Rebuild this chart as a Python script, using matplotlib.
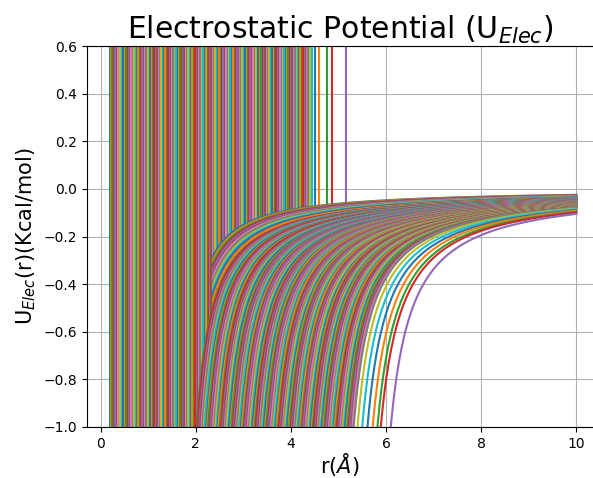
import numpy as np
import matplotlib
matplotlib.use("Agg")
import matplotlib.pyplot as plt

# ---- data (one entry per pair curve) ----
# x position (Å) of each curve's vertical asymptote line
asym_r = [
    0.20, 0.23, 0.25, 0.29, 0.31, 0.34, 0.37, 0.40, 0.42, 0.46,
    0.48, 0.51, 0.54, 0.57, 0.60, 0.62, 0.65, 0.68, 0.71, 0.74,
    0.77, 0.79, 0.83, 0.85, 0.88, 0.91, 0.94, 0.96, 0.99, 1.03,
    1.05, 1.08, 1.11, 1.13, 1.17, 1.19, 1.22, 1.25, 1.28, 1.31,
    1.34, 1.36, 1.40, 1.42, 1.45, 1.48, 1.50, 1.53, 1.57, 1.59,
    1.62, 1.65, 1.67, 1.71, 1.73, 1.76, 1.79, 1.82, 1.84, 1.88,
    1.90, 1.93, 1.96, 1.99, 2.01, 2.05, 2.07, 2.10, 2.13, 2.16,
    2.19, 2.21, 2.25, 2.27, 2.30, 2.33, 2.36, 2.39, 2.41, 2.44,
    2.47, 2.50, 2.53, 2.56, 2.58, 2.61, 2.64, 2.67, 2.70, 2.73,
    2.76, 2.78, 2.82, 2.84, 2.87, 2.90, 2.93, 2.95, 2.98, 3.01,
    3.04, 3.07, 3.10, 3.12, 3.15, 3.18, 3.21, 3.24, 3.27, 3.30,
    3.32, 3.35, 3.38, 3.41, 3.44, 3.46, 3.49, 3.52, 3.55, 3.58,
    3.61, 3.64, 3.66, 3.69, 3.72, 3.75, 3.78, 3.81, 3.83, 3.86,
    3.89, 3.92, 3.95, 3.98, 4.00, 4.03, 4.07, 4.09, 4.12, 4.15,
    4.18, 4.20, 4.23, 4.26, 4.29, 4.31, 4.34, 4.37,
    4.40, 4.45, 4.51, 4.60, 4.77, 4.87, 5.15,
]

# r (Å) at which each curve reaches U = -1 kcal/mol
cross_r = [
    1.83, 1.85, 1.86, 1.88, 1.89, 1.91, 1.92, 1.94, 1.95, 1.97, 1.98, 2.00,
    2.02, 2.04, 2.07, 2.09, 2.12, 2.14, 2.17, 2.19, 2.22, 2.24,
    2.26, 2.29, 2.31, 2.34, 2.36, 2.39, 2.41, 2.44, 2.46, 2.48,
    2.51, 2.53, 2.56, 2.58, 2.61, 2.63, 2.65, 2.68, 2.70, 2.73,
    2.75, 2.78, 2.80, 2.82, 2.85, 2.87, 2.90, 2.92, 2.95, 2.97,
    3.00, 3.02, 3.04, 3.07, 3.09, 3.12, 3.14, 3.17, 3.19, 3.22,
    3.24, 3.26, 3.29, 3.31, 3.34, 3.36, 3.39, 3.41, 3.43, 3.46,
    3.48, 3.51, 3.53, 3.56, 3.58, 3.61, 3.63, 3.65, 3.68, 3.70,
    3.73, 3.75, 3.78, 3.80, 3.83, 3.85, 3.87, 3.90, 3.92, 3.95,
    3.97, 4.00, 4.02, 4.04, 4.07, 4.09, 4.12, 4.14, 4.17, 4.19,
    4.22, 4.24, 4.26, 4.29, 4.31, 4.34, 4.36, 4.39, 4.41, 4.44,
    4.46, 4.48, 4.51, 4.53, 4.56, 4.58, 4.61, 4.63, 4.65, 4.68,
    4.70, 4.73, 4.75, 4.78, 4.80, 4.83, 4.85, 4.87, 4.90, 4.92,
    4.95, 4.97, 5.00, 5.02, 5.04, 5.07, 5.09, 5.12, 5.14, 5.17,
    5.19, 5.22, 5.24, 5.27, 5.29, 5.32,
    5.40, 5.50, 5.61, 5.72, 5.82, 5.89, 6.10,
]

# U (kcal/mol) of each curve at r = 10 Å
u_end = [
    -0.025, -0.026, -0.027, -0.028, -0.029, -0.030, -0.031, -0.032, -0.034, -0.035, -0.036, -0.038,
    -0.040, -0.040, -0.041, -0.041, -0.041, -0.041, -0.042, -0.042, -0.042, -0.043,
    -0.043, -0.043, -0.044, -0.044, -0.044, -0.044, -0.045, -0.045, -0.045, -0.046,
    -0.046, -0.046, -0.047, -0.047, -0.047, -0.047, -0.048, -0.048, -0.048, -0.049,
    -0.049, -0.049, -0.049, -0.050, -0.050, -0.050, -0.051, -0.051, -0.051, -0.052,
    -0.052, -0.052, -0.052, -0.053, -0.053, -0.053, -0.054, -0.054, -0.054, -0.055,
    -0.055, -0.055, -0.055, -0.056, -0.056, -0.056, -0.057, -0.057, -0.057, -0.057,
    -0.058, -0.058, -0.058, -0.059, -0.059, -0.059, -0.060, -0.060, -0.060, -0.060,
    -0.061, -0.061, -0.061, -0.062, -0.062, -0.062, -0.063, -0.063, -0.063, -0.063,
    -0.064, -0.064, -0.064, -0.065, -0.065, -0.065, -0.065, -0.066, -0.066, -0.066,
    -0.067, -0.067, -0.067, -0.067, -0.068, -0.068, -0.068, -0.069, -0.069, -0.069,
    -0.070, -0.070, -0.070, -0.070, -0.071, -0.071, -0.071, -0.072, -0.072, -0.072,
    -0.073, -0.073, -0.073, -0.073, -0.074, -0.074, -0.074, -0.075, -0.075, -0.075,
    -0.076, -0.076, -0.076, -0.076, -0.077, -0.077, -0.077, -0.078, -0.078, -0.078,
    -0.078, -0.079, -0.079, -0.079, -0.080, -0.080,
    -0.083, -0.086, -0.089, -0.092, -0.096, -0.099, -0.105,
]

x_ticks = [0, 2, 4, 6, 8, 10]
y_ticks = [-1.0, -0.8, -0.6, -0.4, -0.2, 0.0, 0.2, 0.4, 0.6]
R_END = 10.0

fig = plt.figure(figsize=(5.93, 4.78), dpi=100)
ax = fig.add_axes([87 / 593, 51 / 478, 506 / 593, 381 / 478])

for i, (v, c, e) in enumerate(zip(asym_r, cross_r, u_end)):
    color = f"C{i % 10}"
    k = -e
    # Coulomb-like branch U = -A / (r - s) through (c, -1) and (10, e)
    s = (c - R_END * k) / (1.0 - k)
    A = c - s
    t = np.geomspace(0.2, (R_END - s) / A, 400)
    r = s + A * t
    u = -1.0 / t
    zb = 2.1 if c < 2.01 else 2.3
    if v >= 2.35:
        zv = 2.0
    elif v >= 2.0:
        zv = 2.2
    else:
        zv = 2.4
    ax.axvline(v, color=color, lw=1.5, zorder=zv)
    ax.plot(r, u, color=color, lw=1.5, zorder=zb)

ax.set_xlim(-0.284, 10.35)
ax.set_ylim(-1.0, 0.6)
ax.set_xticks(x_ticks)
ax.set_yticks(y_ticks)
ax.grid(True)
ax.spines["right"].set_visible(False)
ax.set_title(r"Electrostatic Potential (U$_{Elec}$)", fontsize=21.5, pad=4)
ax.set_xlabel(r"r($Å$)", fontsize=15, labelpad=0)
ax.set_ylabel(r"U$_{Elec}$(r)(Kcal/mol)", fontsize=15)

fig.savefig("out.png", dpi=100)
